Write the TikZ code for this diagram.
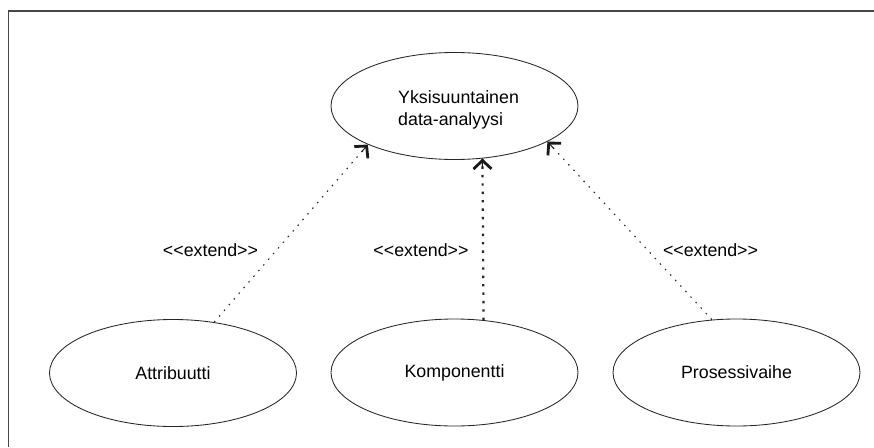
\documentclass[tikz,border=0pt]{standalone}
\usepackage{fontspec}
\newfontfamily\uifont{Liberation Sans}
\usetikzlibrary{shapes.geometric,arrows.meta,calc}
\tikzset{
  usecase/.style={ellipse, draw=black!85, line width=0.85pt, minimum width=247pt,
    minimum height=107pt, inner sep=0pt, font=\uifont\fontsize{17.8}{22}\selectfont,
    text=black},
  lbl/.style={font=\uifont\fontsize{17.8}{22}\selectfont, text=black, inner sep=0pt},
  opentip/.tip={Straight Barb[length=8.5pt,width=18pt,line width=2.8pt]},
  extendline/.style={draw=black!85, line width=1.1pt, dash pattern=on 1.5pt off 6pt},
  extendbold/.style={extendline, line width=2.2pt, dash pattern=on 2.4pt off 6pt},
  headpart/.style={draw=black!90, line width=1pt, solid, -opentip},
  frameline/.style={draw=black!72, line width=1.8pt}
}
% dotted dependency from #2 to #3 with a solid open arrowhead at #3
\newcommand\extendarrow[3][extendline]{%
  \draw[#1] (#2) -- (#3);
  \draw[headpart] ($(#3)!9.5pt!(#2)$) -- (#3);
}
\begin{document}
\begin{tikzpicture}[x=1pt,y=-1pt]
  \useasboundingbox (0,0) rectangle (874,447);
  % open frame: top and left edges
  \coordinate (ftr) at (874,11);
  \coordinate (ftl) at (8.5,11);
  \coordinate (fbl) at (8.5,447);
  \draw[frameline] (ftr) -- (ftl) -- (fbl);

  % use cases
  \node[usecase] (main) at (454.5,106) {};
  \node[lbl, anchor=west, align=left] (maintext) at (398,110) {Yksisuuntainen\\data-analyysi};
  \node[usecase] (attr) at (173,373) {Attribuutti};
  \node[usecase] (komp) at (454.5,372.5) {Komponentti};
  \node[usecase] (pros) at (736.5,372.5) {Prosessivaihe};

  % extend relations
  \extendarrow{attr.51}{main.204}
  \extendarrow[extendbold]{komp.61.5}{main.298.5}
  \extendarrow{pros.115}{main.339}

  \node[lbl] (ext1) at (210.5,250) {<<extend>>};
  \node[lbl] (ext2) at (421,250) {<<extend>>};
  \node[lbl] (ext3) at (710.5,250) {<<extend>>};
\end{tikzpicture}
\end{document}
